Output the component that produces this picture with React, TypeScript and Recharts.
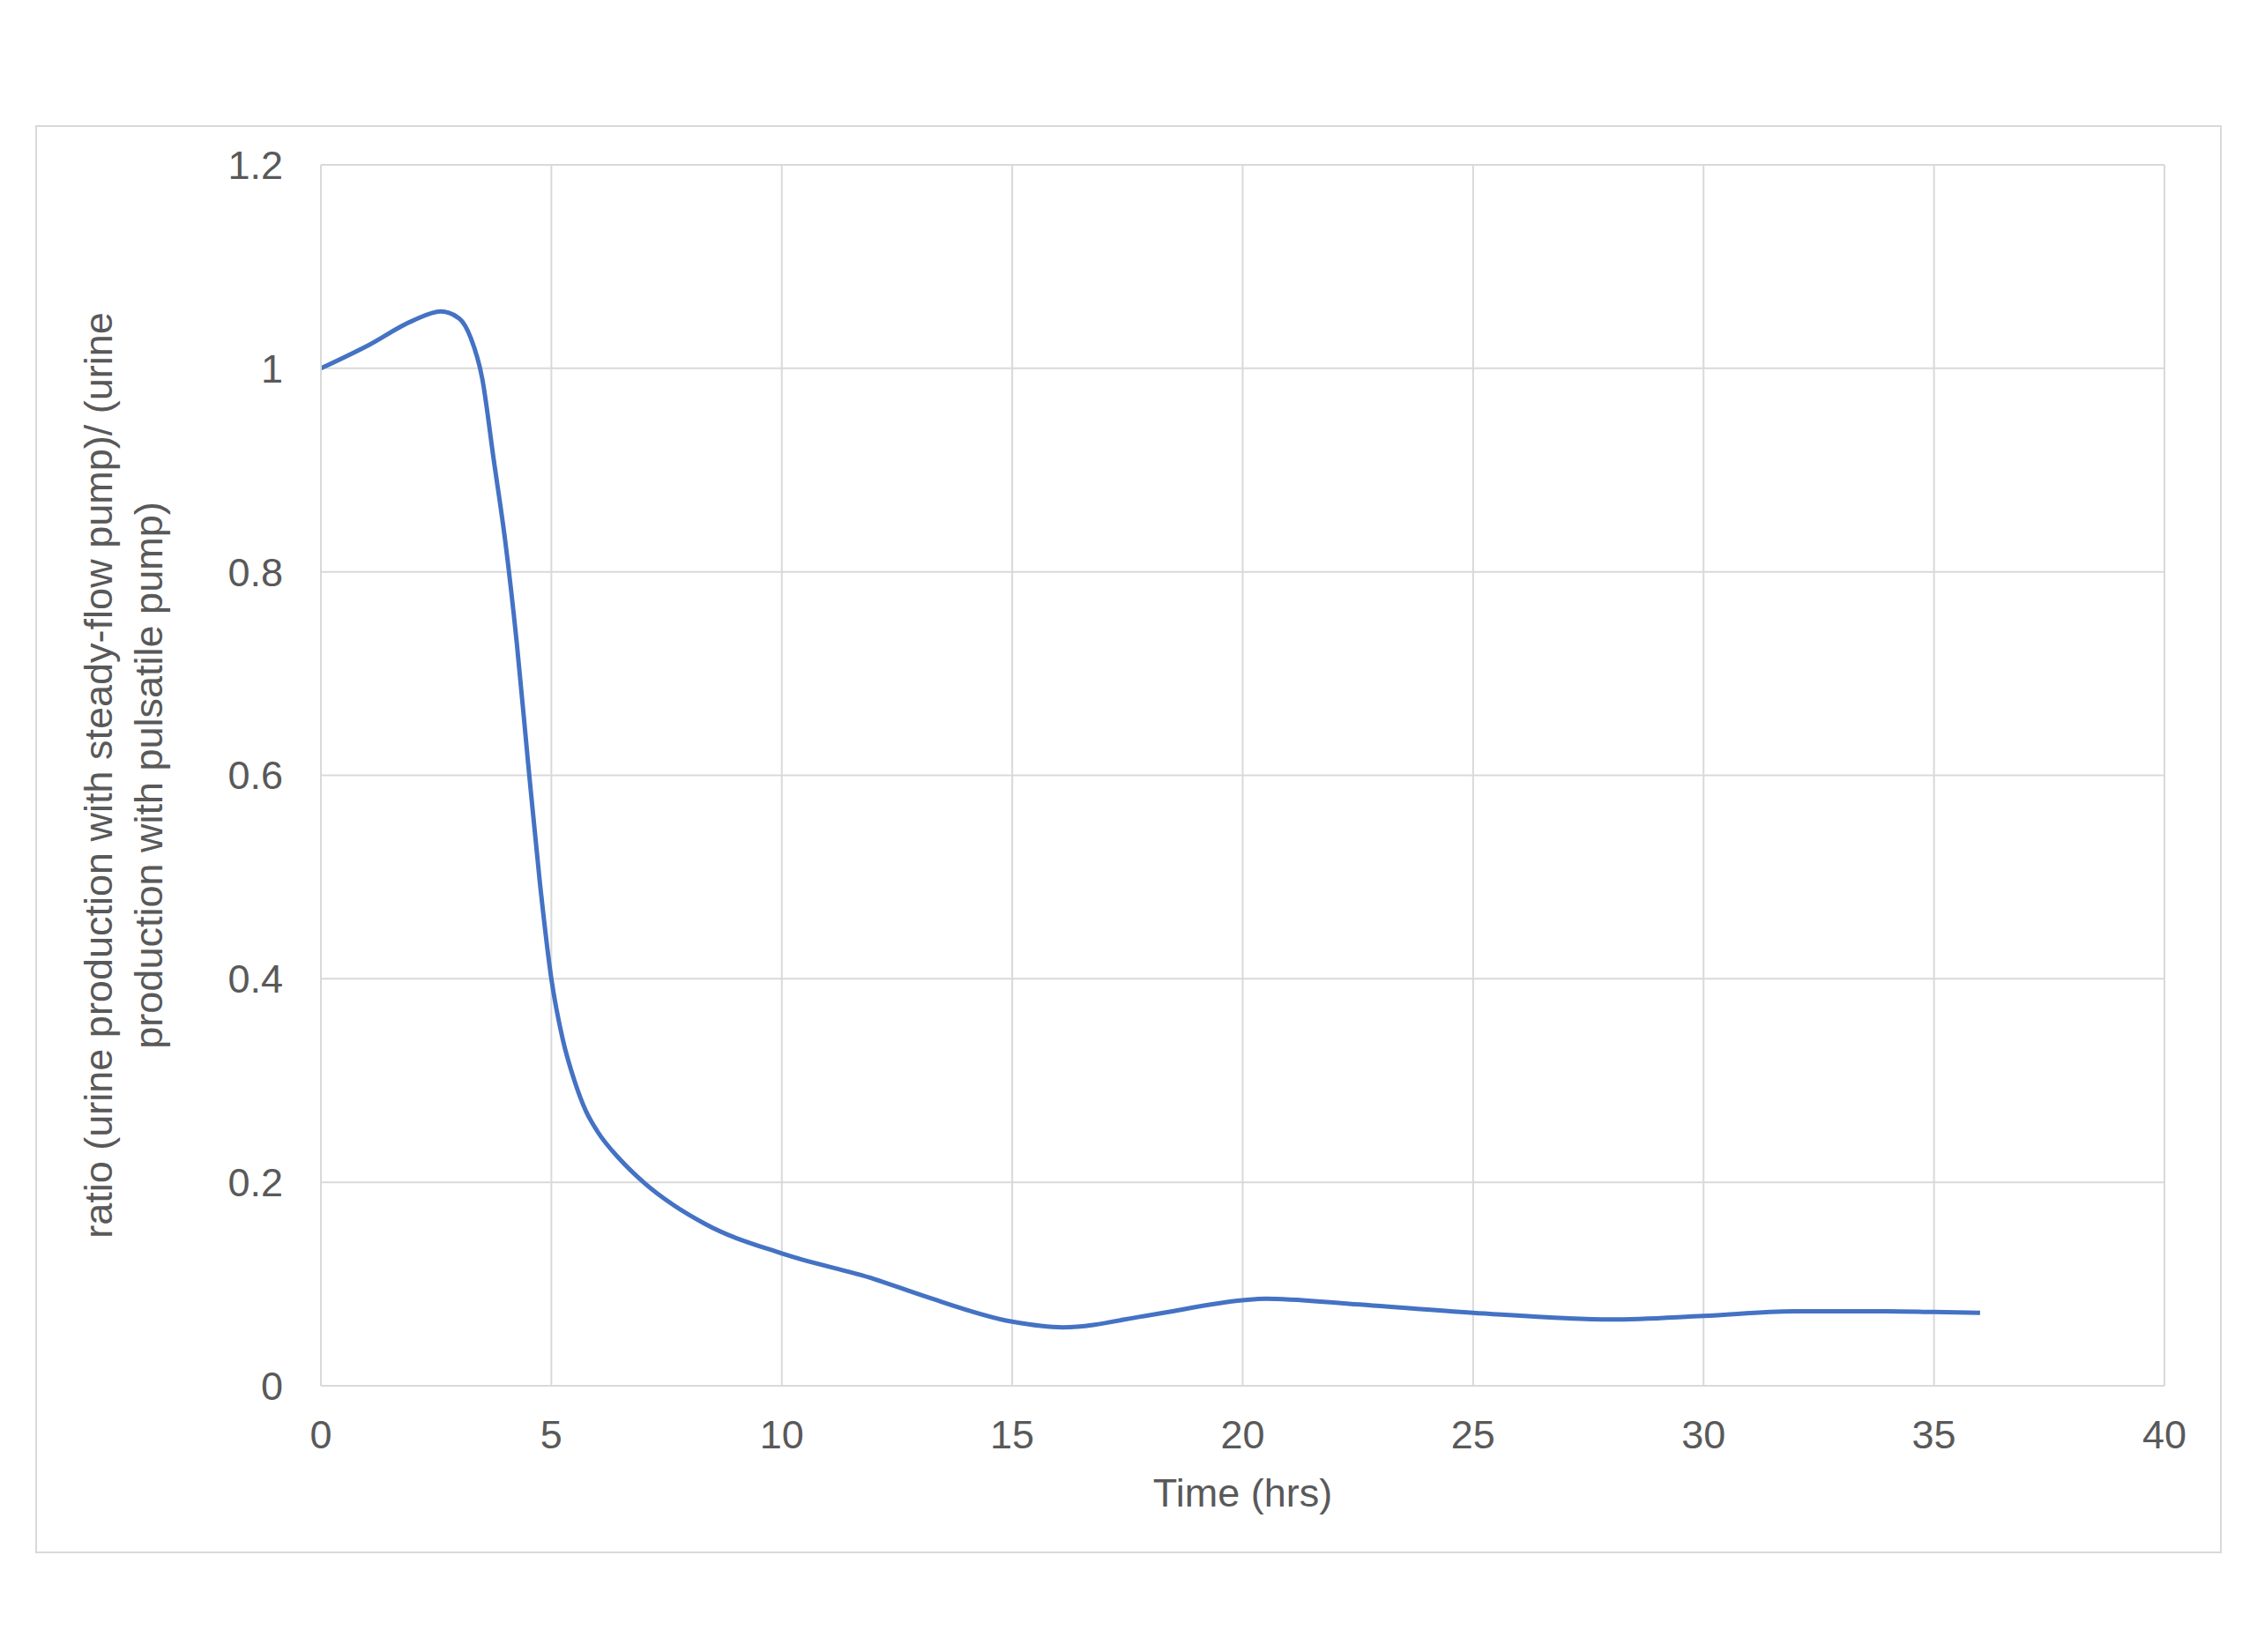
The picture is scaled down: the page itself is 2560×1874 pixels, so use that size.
import { CartesianGrid, Label, Line, LineChart, XAxis, YAxis } from 'recharts';

// time (hrs) and ratio
const hours = [
  0, 1, 2, 2.6, 3, 3.25, 3.5, 3.75, 4, 4.25, 4.5, 4.75, 5, 5.25, 5.5, 5.75, 6,
  6.5, 7, 8.34, 10, 12, 13.1, 15, 16.1, 18, 20, 20.5, 22.3, 25, 28, 30, 32, 34,
  35, 36,
];
const ratio = [
  1.0, 1.022, 1.047, 1.056, 1.049, 1.03, 0.99, 0.91, 0.83, 0.73, 0.61, 0.495,
  0.4, 0.34, 0.3, 0.27, 0.25, 0.222, 0.2, 0.159, 0.13, 0.105, 0.088, 0.063,
  0.0575, 0.0696, 0.084, 0.0855, 0.0806, 0.0717, 0.0652, 0.0687, 0.0732,
  0.0733, 0.0725, 0.0717,
];
const xTicks = [0, 5, 10, 15, 20, 25, 30, 35, 40];
const yTicks = [0, 0.2, 0.4, 0.6, 0.8, 1, 1.2];
const xTitle = 'Time (hrs)';
const yTitleLines = [
  'ratio (urine production with steady-flow pump)/ (urine',
  'production with pulsatile pump)',
];

const chartData = hours.map((t, i) => ({ t, ratio: ratio[i] }));

const FONT = '"Liberation Sans", Arial, sans-serif';
const TEXT = '#595959';
const GRID = '#d9d9d9';

function YTitle({ viewBox }: any) {
  const cy = viewBox.y + viewBox.height / 2;
  const cx = 127;
  return (
    <text
      x={cx}
      y={cy}
      transform={`rotate(-90, ${cx}, ${cy})`}
      textAnchor='middle'
      fill={TEXT}
      fontSize={45}
      fontFamily={FONT}
    >
      {yTitleLines.map((line, i) => (
        <tspan key={i} x={cx} dy={i === 0 ? 0 : 57}>
          {line}
        </tspan>
      ))}
    </text>
  );
}

function XTitle({ viewBox }: any) {
  const cx = viewBox.x + viewBox.width / 2;
  return (
    <text
      x={cx}
      y={1709}
      textAnchor='middle'
      fill={TEXT}
      fontSize={45}
      fontFamily={FONT}
    >
      {xTitle}
    </text>
  );
}

export default function App() {
  return (
    <div
      style={{
        position: 'absolute',
        left: 0,
        top: 0,
        width: 2560,
        height: 1874,
        background: '#fff',
      }}
    >
      <div
        style={{
          position: 'absolute',
          left: 40,
          top: 142,
          width: 2480,
          height: 1620,
          border: `2px solid ${GRID}`,
          boxSizing: 'border-box',
        }}
      />
      <div style={{ position: 'absolute', left: 0, top: 0 }}>
        <LineChart
          width={2560}
          height={1874}
          data={chartData}
          margin={{ top: 187, right: 105, left: 0, bottom: 0 }}
          style={{ fontFamily: FONT }}
        >
          <CartesianGrid stroke={GRID} strokeWidth={2} />
          <XAxis
            dataKey='t'
            type='number'
            domain={[0, 40]}
            ticks={xTicks}
            interval={0}
            height={302}
            tickLine={false}
            tickSize={0}
            tickMargin={39}
            axisLine={{ stroke: GRID, strokeWidth: 2 }}
            tick={{ fill: TEXT, fontSize: 45, fontFamily: FONT }}
          >
            <Label content={<XTitle />} />
          </XAxis>
          <YAxis
            type='number'
            domain={[0, 1.2]}
            ticks={yTicks}
            interval={0}
            width={364}
            tickLine={false}
            tickSize={0}
            tickMargin={43}
            axisLine={{ stroke: GRID, strokeWidth: 2 }}
            tick={{ fill: TEXT, fontSize: 45, fontFamily: FONT }}
            tickFormatter={(v: number) => String(Number(v.toFixed(1)))}
          >
            <Label content={<YTitle />} />
          </YAxis>
          <Line
            type='monotone'
            dataKey='ratio'
            stroke='#4472C4'
            strokeWidth={5}
            dot={false}
            activeDot={false}
            isAnimationActive={false}
          />
        </LineChart>
      </div>
    </div>
  );
}
